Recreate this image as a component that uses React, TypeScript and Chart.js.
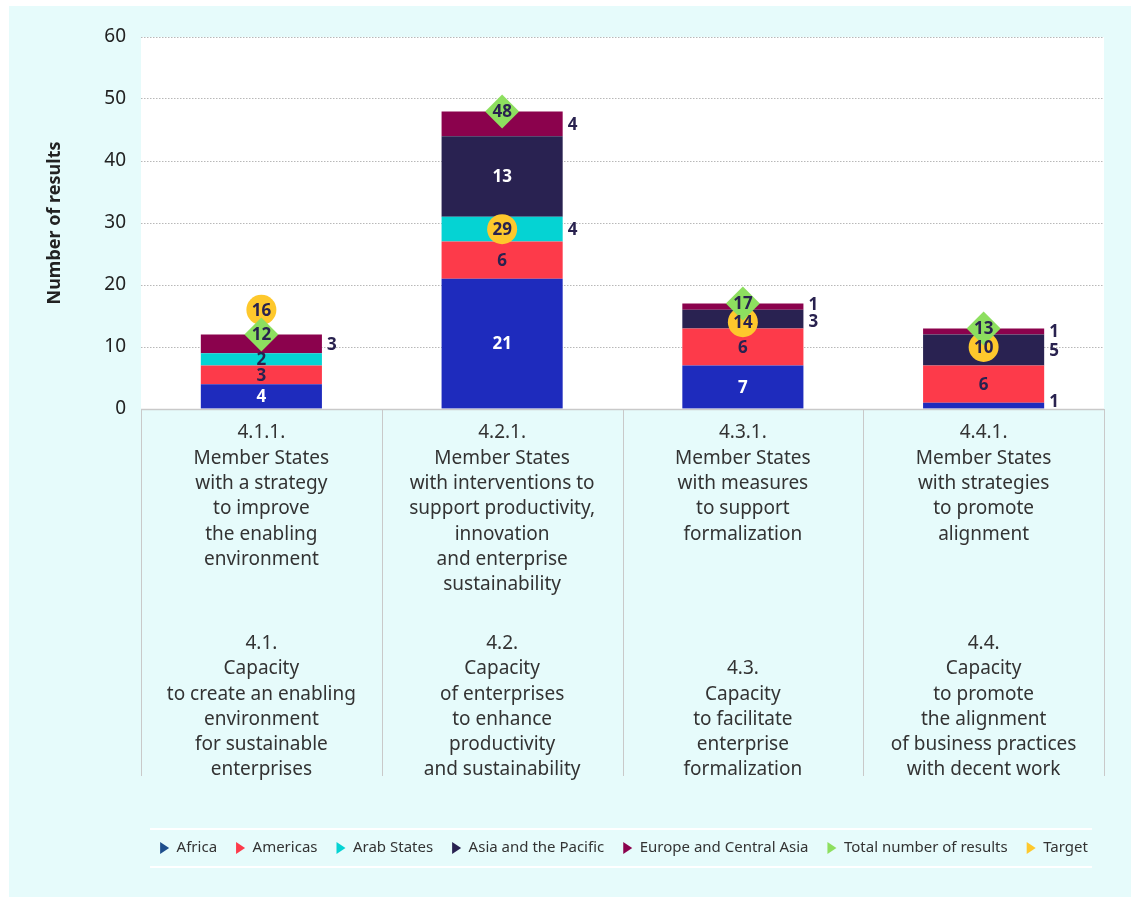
import React, { useEffect, useRef } from "react";
import { Chart, registerables } from "chart.js";

Chart.register(...registerables);

// ---------- data ----------
const categories = ["4.1.1.", "4.2.1.", "4.3.1.", "4.4.1."];
const outputLabels: string[][] = [
  ["4.1.1.", "Member States", "with a strategy", "to improve", "the enabling", "environment"],
  ["4.2.1.", "Member States", "with interventions to", "support productivity,", "innovation", "and enterprise", "sustainability"],
  ["4.3.1.", "Member States", "with measures", "to support", "formalization"],
  ["4.4.1.", "Member States", "with strategies", "to promote", "alignment"],
];
const outcomeLabels: string[][] = [
  ["4.1.", "Capacity", "to create an enabling", "environment", "for sustainable", "enterprises"],
  ["4.2.", "Capacity", "of enterprises", "to enhance", "productivity", "and sustainability"],
  ["4.3.", "Capacity", "to facilitate", "enterprise", "formalization"],
  ["4.4.", "Capacity", "to promote", "the alignment", "of business practices", "with decent work"],
];
const africa = [4, 21, 7, 1];
const americas = [3, 6, 6, 6];
const arabStates = [2, 4, 0, 0];
const asiaPacific = [0, 13, 3, 5];
const europeCentralAsia = [3, 4, 1, 1];
const totalResults = [12, 48, 17, 13];
const targets = [16, 29, 14, 10];
const yTicks = [0, 10, 20, 30, 40, 50, 60];
const seriesNames = [
  "Africa",
  "Americas",
  "Arab States",
  "Asia and the Pacific",
  "Europe and Central Asia",
  "Total number of results",
  "Target",
];

// ---------- styles ----------
const FONT = "'Noto Sans', 'Open Sans', sans-serif";
const barColors = ["#1e2bbd", "#fd3a4a", "#05d3d3", "#292251", "#8b024d"];
const insideLabelColors = ["#ffffff", "#29224f", "#29224f", "#ffffff", "#ffffff"];
const totalColor = "#8ddf5f";
const targetColor = "#fec82c";
const legendColors = ["#1e4e8c", "#fd3a4a", "#05d3d3", "#292251", "#8b024d", totalColor, targetColor];
const darkLabel = "#29224f";
const TOTAL_R = 17;
const TARGET_R = 15;

const overlayPlugin = {
  id: "overlay",
  beforeDraw(chart: any) {
    const { ctx, chartArea: a } = chart;
    ctx.save();
    ctx.fillStyle = "#ffffff";
    ctx.fillRect(a.left, a.top, a.right - a.left, a.bottom - a.top);
    ctx.restore();
  },
  afterDraw(chart: any) {
    const { ctx, chartArea: a } = chart;
    const xs = chart.scales.x;
    const n = categories.length;
    const cw = (a.right - a.left) / n;
    ctx.save();
    // cell borders
    ctx.strokeStyle = "#c9c9c9";
    ctx.lineWidth = 1.5;
    ctx.beginPath();
    ctx.moveTo(a.left, a.bottom + 0.5);
    ctx.lineTo(a.right, a.bottom + 0.5);
    ctx.stroke();
    ctx.lineWidth = 1;
    for (let i = 0; i <= n; i++) {
      const x = Math.round(a.left + i * cw) + 0.5;
      ctx.beginPath();
      ctx.moveTo(x, a.bottom);
      ctx.lineTo(x, a.bottom + 367);
      ctx.stroke();
    }
    // legend separator lines
    ctx.strokeStyle = "#ffffff";
    ctx.lineWidth = 2;
    ctx.beginPath();
    ctx.moveTo(a.left + 9, a.bottom + 420);
    ctx.lineTo(a.right - 12, a.bottom + 420);
    ctx.moveTo(a.left + 9, a.bottom + 458);
    ctx.lineTo(a.right - 12, a.bottom + 458);
    ctx.stroke();

    // category labels
    ctx.fillStyle = "#333333";
    ctx.font = `19px ${FONT}`;
    ctx.textAlign = "center";
    ctx.textBaseline = "middle";
    const lh = 25.3;
    for (let i = 0; i < n; i++) {
      const x = xs.getPixelForValue(i);
      outputLabels[i].forEach((t, k) => ctx.fillText(t, x, a.bottom + 24 + k * lh));
      const ol = outcomeLabels[i];
      ol.forEach((t, k) => ctx.fillText(t, x, a.bottom + 361 - (ol.length - 1 - k) * lh));
    }

    // bar segment labels
    const totalMeta = chart.getDatasetMeta(5);
    const targetMeta = chart.getDatasetMeta(6);
    ctx.font = `bold 17px ${FONT}`;
    for (let j = 0; j < n; j++) {
      const outside: { y: number; text: string; x: number }[] = [];
      const ty = totalMeta.data[j].y;
      const gy = targetMeta.data[j].y;
      for (let d = 0; d < 5; d++) {
        const v = chart.data.datasets[d].data[j] as number;
        if (!v) continue;
        const el = chart.getDatasetMeta(d).data[j] as any;
        const mid = (el.y + el.base) / 2;
        const h = el.base - el.y;
        const clash =
          Math.abs(mid - ty) < TOTAL_R + 6 || Math.abs(mid - gy) < TARGET_R + 6 || h < 10;
        if (clash) {
          outside.push({ y: Math.min(mid, a.bottom - 8), text: String(v), x: el.x + el.width / 2 + 5 });
        } else {
          ctx.fillStyle = insideLabelColors[d];
          ctx.textAlign = "center";
          ctx.fillText(String(v), el.x, mid + 1);
        }
      }
      outside.sort((p, q) => p.y - q.y);
      for (let it = 0; it < 5; it++) {
        for (let k = 1; k < outside.length; k++) {
          const gap = outside[k].y - outside[k - 1].y;
          if (gap < 17) {
            const s = (17 - gap) / 2;
            outside[k].y += s;
            outside[k - 1].y -= s;
          }
        }
      }
      ctx.fillStyle = darkLabel;
      ctx.textAlign = "left";
      outside.forEach((o) => ctx.fillText(o.text, o.x, o.y + 1));
    }

    // marker labels
    ctx.fillStyle = darkLabel;
    ctx.textAlign = "center";
    for (let j = 0; j < n; j++) {
      const g = targetMeta.data[j];
      ctx.fillText(String(targets[j]), g.x, g.y + 1);
      const t = totalMeta.data[j];
      ctx.fillText(String(totalResults[j]), t.x, t.y + 1);
    }
    ctx.restore();
  },
};

export default function App() {
  const ref = useRef<HTMLCanvasElement>(null);

  useEffect(() => {
    Chart.defaults.font.family = FONT;
    const barSeries = [africa, americas, arabStates, asiaPacific, europeCentralAsia];
    const datasets: any[] = barSeries.map((d, i) => ({
      type: "bar",
      label: seriesNames[i],
      data: d,
      backgroundColor: barColors[i],
      borderWidth: 0,
      stack: "regions",
      order: 2,
      barPercentage: 0.503,
      categoryPercentage: 1,
    }));
    datasets.push({
      type: "line",
      label: seriesNames[5],
      data: totalResults,
      stack: "total",
      showLine: false,
      pointStyle: "rectRot",
      pointRadius: TOTAL_R,
      pointBackgroundColor: totalColor,
      pointBorderWidth: 0,
      backgroundColor: totalColor,
      borderColor: totalColor,
      order: 0,
      clip: false,
    });
    datasets.push({
      type: "line",
      label: seriesNames[6],
      data: targets,
      stack: "target",
      showLine: false,
      pointStyle: "circle",
      pointRadius: TARGET_R,
      pointBackgroundColor: targetColor,
      pointBorderWidth: 0,
      backgroundColor: targetColor,
      borderColor: targetColor,
      order: 1,
      clip: false,
    });

    const chart = new Chart(ref.current!, {
      type: "bar",
      data: { labels: categories, datasets },
      plugins: [overlayPlugin],
      options: {
        responsive: false,
        animation: false,
        events: [],
        layout: { padding: { left: 0, right: 27, top: 31, bottom: 31.5 } },
        plugins: {
          tooltip: { enabled: false },
          legend: {
            position: "bottom",
            fullSize: false,
            onClick: () => {},
            labels: {
              usePointStyle: true,
              pointStyleWidth: 12,
              boxHeight: 10,
              padding: 16,
              color: "#333333",
              font: { size: 15, family: FONT },
              generateLabels: () =>
                seriesNames.map((name, i) => ({
                  text: name,
                  fillStyle: legendColors[i],
                  strokeStyle: legendColors[i],
                  lineWidth: 0,
                  pointStyle: "triangle",
                  rotation: 90,
                  hidden: false,
                  datasetIndex: i,
                  fontColor: "#333333",
                })),
            },
          },
        },
        scales: {
          x: {
            stacked: true,
            ticks: { display: false },
            grid: { display: false },
            border: { display: false },
            afterFit: (s: any) => {
              s.height = 415.5;
            },
          },
          y: {
            stacked: true,
            min: 0,
            max: 60,
            afterBuildTicks: (s: any) => {
              s.ticks = yTicks.map((v) => ({ value: v }));
            },
            ticks: {
              padding: 15,
              color: "#222222",
              font: { size: 19, family: FONT },
            },
            grid: { color: "#b8b8b8", drawTicks: false, lineWidth: 1 },
            border: { display: false, dash: [1.5, 1.5] },
            title: {
              display: true,
              text: "Number of results",
              color: "#222222",
              font: { size: 18, weight: "bold", family: FONT },
              padding: { top: 35, bottom: 0 },
            },
            afterFit: (s: any) => {
              s.width = 132;
            },
          },
        },
      } as any,
    });
    return () => chart.destroy();
  }, []);

  return (
    <div
      style={{
        position: "absolute",
        left: 9,
        top: 6,
        width: 1122,
        height: 891,
        background: "#e6fbfb",
      }}
    >
      <canvas ref={ref} width={1122} height={891} style={{ display: "block", width: 1122, height: 891 }} />
    </div>
  );
}
